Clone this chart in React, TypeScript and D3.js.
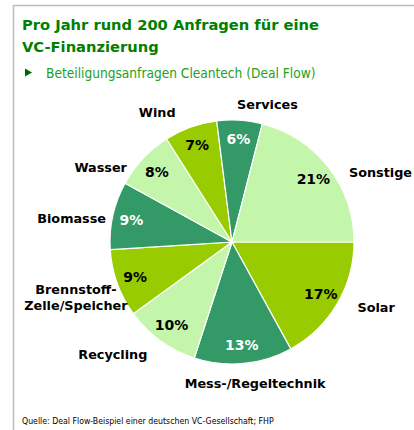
import React from "react";
import * as d3 from "d3";

const categories = ["Solar", "Mess-/Regeltechnik", "Recycling", "Brennstoff-\nZelle/Speicher", "Biomasse", "Wasser", "Wind", "Services", "Sonstige"];
const values = [17, 13, 10, 9, 9, 8, 7, 6, 21];
const sliceColors = ["#99CC00", "#339966", "#C3F5AA", "#99CC00", "#339966", "#C3F5AA", "#99CC00", "#339966", "#C3F5AA"];
const pctTextColors = ["#000", "#fff", "#000", "#000", "#fff", "#000", "#000", "#fff", "#000"];
// label nudges relative to radial placement (layout only)
const labelNudge: [number, number][] = [[15, -11], [9, -8], [-31, -9], [-15, 5], [-14, 9], [-22, 28], [-24, 12], [26, 12], [30, 22]];

const title = ["Pro Jahr rund 200 Anfragen für eine", "VC-Finanzierung"];
const subtitle = "Beteiligungsanfragen Cleantech (Deal Flow)";
const source = "Quelle: Deal Flow-Beispiel einer deutschen VC-Gesellschaft; FHP";

const W = 414, H = 430;
const cx = 232, cy = 242, R = 122;
const font = "Tahoma, 'DejaVu Sans Condensed', 'DejaVu Sans', sans-serif";
const boldFont = "Tahoma, 'DejaVu Sans', sans-serif";

export default function App() {
  const pie = d3.pie<number>().sort(null).value((d) => d).startAngle(Math.PI / 2).endAngle(Math.PI / 2 + 2 * Math.PI);
  const arcs = pie(values);
  const arc = d3.arc<d3.PieArcDatum<number>>().innerRadius(0).outerRadius(R);
  const pctArc = d3.arc<d3.PieArcDatum<number>>().innerRadius(103).outerRadius(103);
  const labArc = d3.arc<d3.PieArcDatum<number>>().innerRadius(150).outerRadius(150);
  return (
    <svg width={W} height={H} style={{ position: "absolute", left: 0, top: 0, background: "#fff" }}>
      <line x1={13.5} y1={5.5} x2={W} y2={5.5} stroke="#BDBDBD" strokeWidth={1.5} />
      <line x1={13.5} y1={5} x2={13.5} y2={H} stroke="#BDBDBD" strokeWidth={1.5} />
      <g fontFamily={boldFont} fontWeight="bold" fontSize={14.7} fill="#008000">
        <text x={22} y={29.5}>{title[0]}</text>
        <text x={22} y={51.5}>{title[1]}</text>
      </g>
      <path d="M25,68.5 L32,72.5 L25,76.5 Z" fill="#006600" />
      <text x={46} y={77.5} fontFamily={font} fontSize={13.6} fill="#22A022">{subtitle}</text>
      <g transform={`translate(${cx},${cy})`}>
        {arcs.map((a, i) => (
          <path key={i} d={arc(a) || ""} fill={sliceColors[i]} stroke="#fff" strokeWidth={1.2} />
        ))}
        {arcs.map((a, i) => {
          const [x, y] = pctArc.centroid(a);
          return (
            <text key={i} x={x} y={y} dy="0.36em" textAnchor="middle" fontFamily={boldFont} fontWeight="bold" fontSize={14} fill={pctTextColors[i]}>
              {values[i]}%
            </text>
          );
        })}
        {arcs.map((a, i) => {
          const [x, y] = labArc.centroid(a);
          const lines = categories[i].split("\n");
          const lx = x + labelNudge[i][0];
          const ly = y + labelNudge[i][1] - ((lines.length - 1) * 16) / 2;
          return (
            <text key={i} textAnchor="middle" fontFamily={boldFont} fontWeight="bold" fontSize={12.8} fill="#000">
              {lines.map((l, j) => (
                <tspan key={j} x={lx} y={ly + j * 16} dy="0.36em">{l}</tspan>
              ))}
            </text>
          );
        })}
      </g>
      <text x={22} y={424} fontFamily={font} fontSize={8.7} fill="#000">{source}</text>
    </svg>
  );
}
